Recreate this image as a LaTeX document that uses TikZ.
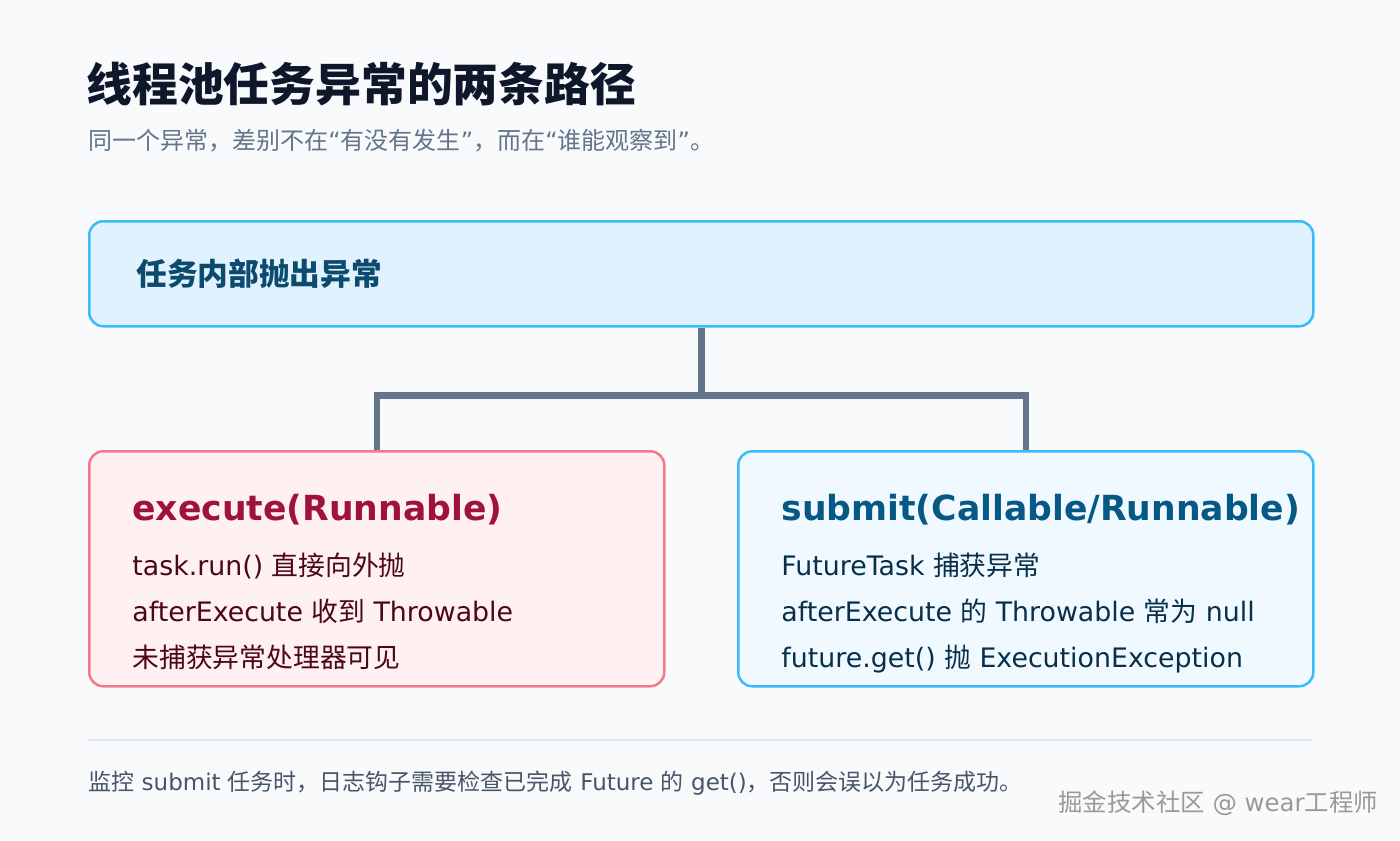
\documentclass[tikz,border=0pt]{standalone}
\usepackage{fontspec}
\setmainfont{DejaVu Sans}
\newfontfamily\zhfont{Noto Sans CJK SC}
\newcommand{\zh}[1]{{\zhfont#1}}
\usepackage{tikz}
\usetikzlibrary{positioning,calc}

\definecolor{pagebg}{HTML}{F8FAFC}
\definecolor{ink}{HTML}{0F172A}
\definecolor{slate}{HTML}{64748B}
\definecolor{slatedark}{HTML}{475569}
\definecolor{rulegray}{HTML}{E2E8F0}
\definecolor{skybg}{HTML}{E0F2FE}
\definecolor{skyline}{HTML}{38BDF8}
\definecolor{skyink}{HTML}{0C4A6E}
\definecolor{icebg}{HTML}{F0F9FF}
\definecolor{navyink}{HTML}{075985}
\definecolor{navyitem}{HTML}{082F49}
\definecolor{rosebg}{HTML}{FFF1F2}
\definecolor{roseline}{HTML}{F27A8C}
\definecolor{roseink}{HTML}{9F1239}
\definecolor{roseitem}{HTML}{4C0519}

\tikzset{
  panel/.style={draw, line width=1.25pt, rounded corners=7pt, anchor=north west, inner sep=0pt},
  heading/.style={anchor=base west, inner sep=0pt, font=\fontsize{17.3}{20}\selectfont\bfseries},
  item/.style={anchor=base west, inner sep=0pt, font=\fontsize{13.4}{16}\selectfont},
  branch/.style={draw=slate, line width=3.25pt, line join=miter},
}

\begin{document}
\begin{tikzpicture}[x=0.5pt,y=0.5pt]
    \fill[pagebg] (0,0) rectangle (1400,-840);
    \node[anchor=base west, inner sep=0pt, text=ink, font=\fontsize{22.9}{26}\selectfont\bfseries] (title) at (86,-102) {\zh{线程池任务异常的两条路径}};
    \node[anchor=base west, inner sep=0pt, text=slate, font=\fontsize{12}{14}\selectfont] (subtitle) at (88,-149) {\zh{同一个异常，差别不在}“\zh{有没有发生}”\zh{，而在}“\zh{谁能观察到}”\zh{。}};

    \node[panel, fill=skybg, draw=skyline, minimum width=612pt, minimum height=52.5pt] (cause) at (88,-220) {};
    \node[anchor=base west, inner sep=0pt, text=skyink, font=\fontsize{15.35}{18}\selectfont\bfseries] (causetxt) at (136,-285) {\zh{任务内部抛出异常}};

    \node[panel, fill=rosebg, draw=roseline, minimum width=287.5pt, minimum height=117.5pt] (exec) at (88,-450) {};
    \node[panel, fill=icebg, draw=skyline, minimum width=287.5pt, minimum height=117.5pt] (submit) at (737,-450) {};

    \coordinate (fork) at ($(cause.south)+(0,-68)$);
    \draw[branch] (cause.south) -- (fork);
    \draw[branch] (exec.north) |- (fork) -| (submit.north);

    \node[heading, text=roseink] (exechead) at (132,-520) {execute(Runnable)};
    \foreach \txt [count=\i] in {{task.run() \zh{直接向外抛}}, {afterExecute \zh{收到} Throwable}, {\zh{未捕获异常处理器可见}}} {
        \node[item, text=roseitem] (exec-\i) at (132,{-575-46*(\i-1)}) {\txt};
    }
    \node[heading, text=navyink] (submithead) at (781,-520) {submit(Callable/Runnable)};
    \foreach \txt [count=\i] in {{FutureTask \zh{捕获异常}}, {afterExecute \zh{的} Throwable \zh{常为} null}, {future.get() \zh{抛} ExecutionException}} {
        \node[item, text=navyitem] (submit-\i) at (781,{-575-46*(\i-1)}) {\txt};
    }

    \draw[rulegray, line width=0.6pt] (88,-740) -- (1312,-740);
    \node[anchor=base west, inner sep=0pt, text=slatedark, font=\fontsize{11.5}{14}\selectfont] (note) at (88,-790) {\zh{监控} submit \zh{任务时，日志钩子需要检查已完成} Future \zh{的} get()\zh{，否则会误以为任务成功。}};
    \node[anchor=base west, inner sep=0pt, text=gray!80, font=\fontsize{12.2}{14}\selectfont] (mark) at (1058,-811) {\zh{掘金技术社区} @ wear\zh{工程师}};
\end{tikzpicture}
\end{document}
